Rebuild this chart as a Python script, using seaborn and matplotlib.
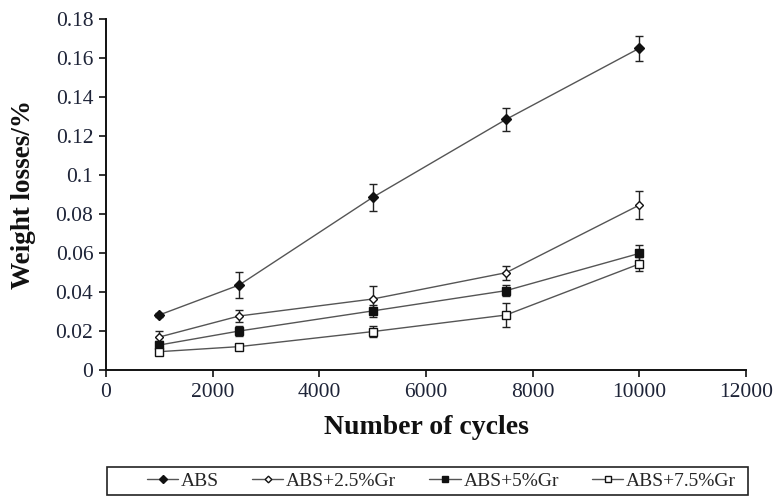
import numpy as np
import pandas as pd
import matplotlib
matplotlib.use("Agg")
import matplotlib.pyplot as plt
from matplotlib.patches import Rectangle
import seaborn as sns

# --- data ---
cycles = [1000, 2500, 5000, 7500, 10000]
abs_loss = [0.0282, 0.0436, 0.0885, 0.1285, 0.1650]
abs_err = [0.0008, 0.0067, 0.0070, 0.0060, 0.0064]
gr25_loss = [0.0169, 0.0277, 0.0364, 0.0499, 0.0846]
gr25_err = [0.0030, 0.0032, 0.0065, 0.0036, 0.0072]
gr5_loss = [0.0128, 0.0200, 0.0303, 0.0407, 0.0598]
gr5_err = [0.0020, 0.0025, 0.0030, 0.0030, 0.0042]
gr75_loss = [0.0094, 0.0120, 0.0197, 0.0282, 0.0544]
gr75_err = [0.0012, 0.0015, 0.0030, 0.0060, 0.0035]
series_names = ["ABS", "ABS+2.5%Gr", "ABS+5%Gr", "ABS+7.5%Gr"]
ytick_labels = ["0", "0.02", "0.04", "0.06", "0.08", "0.1", "0.12", "0.14", "0.16", "0.18"]

sns.set_theme(style="ticks")
plt.rcParams["font.family"] = ["Liberation Serif", "DejaVu Serif"]

frames = []
for name, vals, errs in zip(series_names,
                            [abs_loss, gr25_loss, gr5_loss, gr75_loss],
                            [abs_err, gr25_err, gr5_err, gr75_err]):
    frames.append(pd.DataFrame({"cycles": cycles, "loss": vals, "err": errs, "series": name}))
df = pd.concat(frames, ignore_index=True)

markers = {"ABS": "D", "ABS+2.5%Gr": "D", "ABS+5%Gr": "s", "ABS+7.5%Gr": "s"}
faces = {"ABS": "#111111", "ABS+2.5%Gr": "white", "ABS+5%Gr": "#111111", "ABS+7.5%Gr": "white"}
sizes = {"ABS": 5, "ABS+2.5%Gr": 4.5, "ABS+5%Gr": 6, "ABS+7.5%Gr": 6}

fig = plt.figure(figsize=(7.78, 4.97), dpi=100)
ax = fig.add_axes([0.136, 0.2555, 0.823, 0.7063])

for name in series_names:
    d = df[df["series"] == name]
    sns.lineplot(data=d, x="cycles", y="loss", ax=ax, color="#555555", lw=1.0,
                 marker=markers[name], markersize=sizes[name],
                 markerfacecolor=faces[name], markeredgecolor="#111111",
                 markeredgewidth=1.0, label=name, errorbar=None)
    ax.errorbar(d["cycles"], d["loss"], yerr=d["err"], fmt="none",
                ecolor="#222222", elinewidth=1.0, capsize=3, capthick=1.0, zorder=1)

ax.set_xlim(0, 12000)
ax.set_ylim(0, 0.18)
ax.set_xticks(np.arange(0, 12001, 2000))
ax.set_yticks(np.arange(0, 0.181, 0.02))
ax.set_yticklabels(ytick_labels)
ax.tick_params(labelsize=15.5, direction="out", length=5, width=1.2, colors="#111111", pad=4)
for lab in ax.get_xticklabels() + ax.get_yticklabels():
    lab.set_color("#1e2438")
sns.despine(ax=ax)
for s in ["left", "bottom"]:
    ax.spines[s].set_linewidth(1.4)
    ax.spines[s].set_color("#111111")

ax.set_xlabel("Number of cycles", fontsize=20, fontweight="bold", color="#111111")
ax.set_ylabel("Weight losses/%", fontsize=19.5, fontweight="bold", color="#111111")
ax.xaxis.set_label_coords(0.5, -0.128)
ax.yaxis.set_label_coords(-0.109, 0.5)

# legend entries sit right of centre inside a wider box, as in the original
ax.get_legend().remove()
handles, labels = ax.get_legend_handles_labels()
fig.legend(handles, labels, loc="center left", bbox_to_anchor=(147 / 778, 1 - 481 / 497),
           ncol=4, frameon=False, fontsize=14, markerscale=0.75,
           handlelength=1.6, handletextpad=0.15, columnspacing=1.7,
           borderpad=0, borderaxespad=0)
fig.patches.append(Rectangle((107 / 778, 1 - 495 / 497), 641 / 778, 28 / 497,
                             transform=fig.transFigure, fill=False,
                             edgecolor="#222222", linewidth=1.2))

fig.savefig("out.png", dpi=100)
